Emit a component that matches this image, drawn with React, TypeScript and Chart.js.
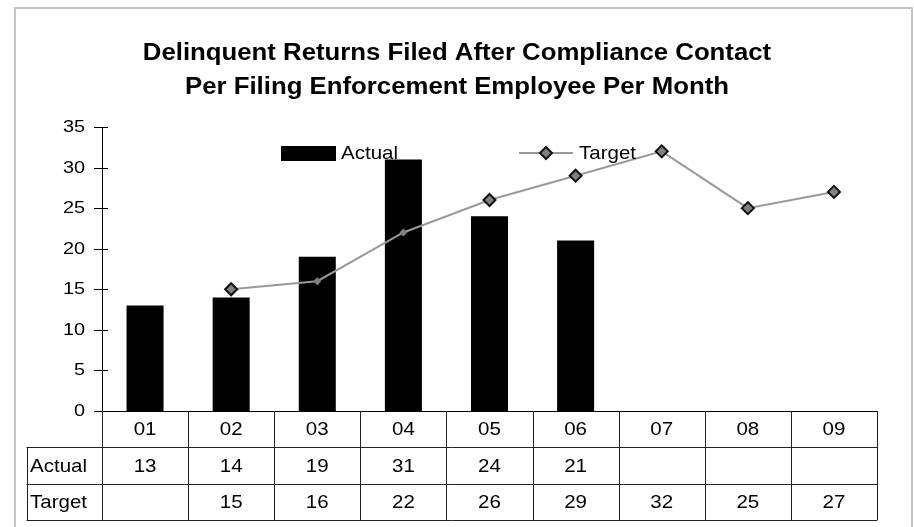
import React, { useEffect, useRef } from "react";
import { Chart, registerables } from "chart.js";

Chart.register(...registerables);

const months = ["01", "02", "03", "04", "05", "06", "07", "08", "09"];
const actual: (number | null)[] = [13, 14, 19, 31, 24, 21, null, null, null];
const target: (number | null)[] = [null, 15, 16, 22, 26, 29, 32, 25, 27];
const yTicks = [0, 5, 10, 15, 20, 25, 30, 35];
const titleLines = [
  "Delinquent Returns Filed After Compliance Contact",
  "Per Filing Enforcement Employee Per Month",
];
const seriesNames = ["Actual", "Target"];

const FONT = "Arial, 'Liberation Sans', sans-serif";

const fmt = (v: number | null) => (v === null ? "" : String(v));

function txt(
  ctx: CanvasRenderingContext2D,
  s: string,
  x: number,
  y: number,
  align: CanvasTextAlign,
  font: string,
  sx: number,
  baseline: CanvasTextBaseline = "middle"
) {
  ctx.save();
  ctx.translate(x, y);
  ctx.scale(sx, 1);
  ctx.font = font;
  ctx.textAlign = align;
  ctx.textBaseline = baseline;
  ctx.fillStyle = "#000";
  ctx.fillText(s, 0, 0);
  ctx.restore();
}

const decorPlugin = {
  id: "decor",
  afterDraw(chart: any) {
    const ctx = chart.ctx as CanvasRenderingContext2D;
    const x = chart.scales.x;
    const y = chart.scales.y;
    const area = chart.chartArea;
    ctx.save();

    // outer border
    ctx.strokeStyle = "#c4c4c4";
    ctx.lineWidth = 2;
    ctx.strokeRect(15, 8, 897, 530);

    // title
    const tf = `bold 23px ${FONT}`;
    txt(ctx, titleLines[0], 457, 60, "center", tf, 1.12, "alphabetic");
    txt(ctx, titleLines[1], 457, 94, "center", tf, 1.12, "alphabetic");

    // y tick marks crossing the axis + labels
    ctx.strokeStyle = "#000";
    ctx.lineWidth = 1;
    for (const t of yTicks) {
      const py = Math.round(y.getPixelForValue(t)) + 0.5;
      ctx.beginPath();
      ctx.moveTo(area.left - 8, py);
      ctx.lineTo(area.left + 6, py);
      ctx.stroke();
      txt(ctx, String(t), area.left - 17, py, "right", `17px ${FONT}`, 1.17);
    }

    // data table
    const left = area.left;
    const right = area.right;
    const top = area.bottom;
    const rowH = 36.3;
    const r1 = top + rowH;
    const r2 = r1 + rowH;
    const r3 = r2 + rowH;
    const tableLeft = 26.5;
    const n = months.length;
    const step = (right - left) / n;

    ctx.strokeStyle = "#222";
    ctx.lineWidth = 1;
    const hl = (yy: number, x0: number, x1: number) => {
      ctx.beginPath();
      ctx.moveTo(x0, Math.round(yy) + 0.5);
      ctx.lineTo(x1, Math.round(yy) + 0.5);
      ctx.stroke();
    };
    const vl = (xx: number, y0: number, y1: number) => {
      ctx.beginPath();
      ctx.moveTo(Math.round(xx) + 0.5, y0);
      ctx.lineTo(Math.round(xx) + 0.5, y1);
      ctx.stroke();
    };
    hl(r1, tableLeft, right);
    hl(r2, tableLeft, right);
    hl(r3, tableLeft, right);
    vl(tableLeft, r1, r3 + 0.5);
    vl(left, top, r3 + 0.5);
    for (let i = 1; i <= n; i++) {
      const bx = x.getPixelForValue(i - 1) + step / 2;
      vl(bx, top, r3 + 0.5);
    }

    const cf = `19px ${FONT}`;
    const csx = 1.08;
    months.forEach((m, i) => {
      const cx = x.getPixelForValue(i);
      txt(ctx, m, cx, (top + r1) / 2 + 1, "center", cf, csx);
      txt(ctx, fmt(actual[i]), cx, (r1 + r2) / 2 + 1, "center", cf, csx);
      txt(ctx, fmt(target[i]), cx, (r2 + r3) / 2 + 1, "center", cf, csx);
    });
    txt(ctx, seriesNames[0], 30, (r1 + r2) / 2 + 1, "left", cf, csx);
    txt(ctx, seriesNames[1], 30, (r2 + r3) / 2 + 1, "left", cf, csx);

    ctx.restore();
  },
};

const legendPlugin = {
  id: "inlineLegend",
  afterDatasetsDraw(chart: any) {
    const ctx = chart.ctx as CanvasRenderingContext2D;
    ctx.save();
    const lf = `19px ${FONT}`;
    // Actual
    ctx.fillStyle = "#000";
    ctx.fillRect(281, 146, 55, 15);
    txt(ctx, seriesNames[0], 341, 154, "left", lf, 1.08);
    // Target
    ctx.strokeStyle = "#999";
    ctx.lineWidth = 2;
    ctx.beginPath();
    ctx.moveTo(519, 153);
    ctx.lineTo(573, 153);
    ctx.stroke();
    ctx.beginPath();
    ctx.moveTo(546, 147);
    ctx.lineTo(552, 153);
    ctx.lineTo(546, 159);
    ctx.lineTo(540, 153);
    ctx.closePath();
    ctx.fillStyle = "#808080";
    ctx.fill();
    ctx.strokeStyle = "#111";
    ctx.lineWidth = 2;
    ctx.stroke();
    txt(ctx, seriesNames[1], 579, 154, "left", lf, 1.08);
    ctx.restore();
  },
};

export default function App() {
  const ref = useRef<HTMLCanvasElement | null>(null);
  useEffect(() => {
    if (!ref.current) return;
    const chart = new Chart(ref.current, {
      data: {
        labels: months,
        datasets: [
          {
            type: "line",
            label: seriesNames[1],
            data: target,
            borderColor: "#999999",
            borderWidth: 2,
            pointStyle: "rectRot",
            pointRadius: [6, 6, 4, 4, 6, 6, 6, 6, 6],
            pointBorderWidth: [2, 2, 0, 0, 2, 2, 2, 2, 2],
            pointBackgroundColor: "#808080",
            pointBorderColor: "#111",
            tension: 0,
            order: 0,
          },
          {
            type: "bar",
            label: seriesNames[0],
            data: actual,
            backgroundColor: "#000",
            borderWidth: 0,
            categoryPercentage: 1,
            barPercentage: 0.43,
            order: 1,
          },
        ],
      },
      options: {
        animation: false,
        responsive: false,
        events: [],
        layout: { padding: { left: 20, top: 127, right: 37, bottom: 116 } },
        plugins: {
          legend: { display: false },
          title: { display: false },
          tooltip: { enabled: false },
        },
        scales: {
          x: {
            offset: true,
            ticks: { display: false },
            grid: { display: false },
            border: { display: true, color: "#000" },
            afterFit: (s: any) => {
              s.height = 0;
            },
          },
          y: {
            min: 0,
            max: 35,
            afterBuildTicks: (s: any) => {
              s.ticks = yTicks.map((v) => ({ value: v }));
            },
            ticks: { display: false },
            grid: { display: false },
            border: { display: true, color: "#000" },
            afterFit: (s: any) => {
              s.width = 82;
            },
          },
        },
      },
      plugins: [decorPlugin, legendPlugin],
    } as any);
    return () => chart.destroy();
  }, []);
  return (
    <div style={{ position: "fixed", left: 0, top: 0 }}>
      <canvas ref={ref} width={914} height={527} style={{ display: "block" }} />
    </div>
  );
}
